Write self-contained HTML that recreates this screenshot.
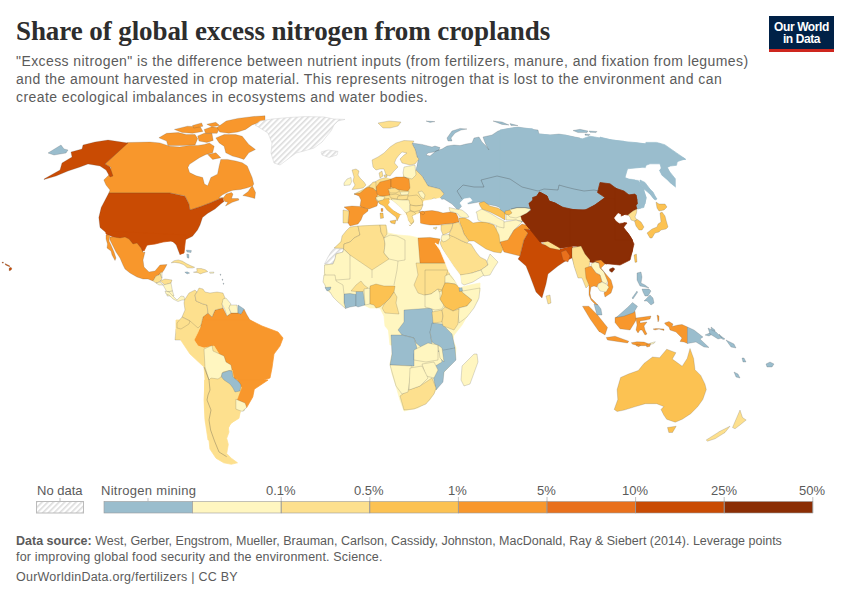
<!DOCTYPE html>
<html><head><meta charset="utf-8">
<style>
html,body{margin:0;padding:0;background:#fff;width:850px;height:600px;overflow:hidden;position:relative;font-family:"Liberation Sans",sans-serif;}
.t{position:absolute;white-space:nowrap;}
#title{left:16px;top:14.6px;font-family:"Liberation Serif",serif;font-weight:bold;font-size:28.3px;color:#2d2d2d;letter-spacing:-0.1px;transform:scaleX(0.955);transform-origin:0 0;}
.sub{left:16px;font-size:14px;color:#5b5b5b;letter-spacing:0.42px;}
#logo{position:absolute;left:769px;top:16px;width:65px;height:36px;background:#002147;}
#logo .red{position:absolute;left:0;bottom:0;width:65px;height:3px;background:#ce261e;}
#logo .l{position:absolute;width:65px;text-align:center;color:#fff;font-size:12px;font-weight:bold;letter-spacing:-0.4px;line-height:14px;}
.leg{font-size:13px;color:#5b5b5b;}
.src{left:16px;font-size:12.5px;color:#5b5b5b;}
svg{position:absolute;left:0;top:0;}
.b{stroke:rgba(70,70,70,0.38);stroke-width:0.5;}
</style></head><body>
<div id="title" class="t">Share of global excess nitrogen from croplands</div>
<div class="t sub" style="top:53px">"Excess nitrogen" is the difference between nutrient inputs (from fertilizers, manure, and fixation from legumes)</div>
<div class="t sub" style="top:71px">and the amount harvested in crop material. This represents nitrogen that is lost to the environment and can</div>
<div class="t sub" style="top:89px">create ecological imbalances in ecosystems and water bodies.</div>
<div id="logo"><div class="l" style="top:3.5px">Our World</div><div class="l" style="top:16.1px">in Data</div><div class="red"></div></div>

<svg width="850" height="600" viewBox="0 0 850 600">
<defs>
<pattern id="hatch" width="4" height="4" patternUnits="userSpaceOnUse" patternTransform="rotate(45)">
<rect width="4" height="4" fill="#fff"/><rect width="1.6" height="4" fill="#dcdcdc"/>
</pattern>
</defs>
<g id="map" stroke="#fff" stroke-width="0.4" stroke-linejoin="round">
<path fill="#9abdcd" stroke="#9abdcd" stroke-width="0.7" d="M600.0,137.1 611.8,140.0 623.5,141.2 629.4,143.5 635.3,142.9 645.9,144.1 645.9,142.4 656.5,142.4 664.7,144.7 676.5,152.9 685.9,159.4 677.6,160.0 676.5,165.3 665.9,166.5 670.6,172.9 675.3,178.8 675.3,187.6 669.4,182.4 661.2,175.3 658.8,170.6 661.2,167.1 658.2,160.0 656.5,162.4 649.4,161.2 647.1,163.5 645.9,168.2 628.2,167.6 624.7,177.6 638.8,180.0 644.7,185.9 649.4,190.0 600.0,190.0Z"/>
<path fill="#ffffff" stroke="#ffffff" stroke-width="0.7" d="M628.2,167.6 645.9,168.2 647.1,163.5 649.4,161.2 656.5,162.4 658.2,160.0 661.2,167.1 658.8,170.6 661.2,175.3 669.4,182.4 675.3,187.6 675.3,192.9 647.1,192.9 638.8,180.0 624.7,177.6Z"/>
<path fill="#9abdcd" stroke="#9abdcd" stroke-width="0.7" d="M615.0,180.0 615.0,187.0 624.0,191.0 629.0,195.0 635.0,194.0 637.0,200.0 635.0,204.0 638.0,209.0 641.0,208.0 645.0,204.0 646.0,198.0 644.0,191.0 640.0,185.0 635.0,180.0Z"/>
<path fill="#9abdcd" class="b" d="M412.0,143.0 422.0,144.4 432.0,147.0 435.0,146.0 440.0,147.6 439.0,150.0 434.0,152.0 428.0,153.0 426.0,155.0 430.0,156.0 436.0,151.0 442.0,149.0 447.0,146.0 454.0,145.0 460.0,145.6 466.0,144.0 472.0,143.0 474.0,138.0 479.0,137.0 482.0,142.0 486.0,146.0 489.0,150.0 486.0,145.0 484.0,140.0 483.0,137.0 492.0,135.0 498.0,131.0 506.0,129.0 518.0,127.0 530.0,129.0 538.0,130.0 539.0,134.0 550.0,135.0 559.0,134.0 570.0,136.0 580.0,138.0 580.0,190.0 545.0,200.0 535.0,215.0 522.0,222.0 510.0,212.0 496.0,206.0 486.0,204.0 479.0,202.0 468.0,204.0 462.0,206.0 458.0,210.0 452.0,204.0 444.0,199.0 438.0,200.0 444.0,194.0 440.0,189.0 428.0,186.0 422.0,176.0 416.0,170.0 418.0,161.0 416.0,152.0Z"/>
<path fill="#fff6c0" stroke="#fff6c0" stroke-width="0.7" d="M325.0,265.0 330.0,255.0 336.0,247.0 344.0,237.0 352.0,230.0 362.0,226.0 380.0,225.0 386.0,225.0 388.0,233.0 398.0,235.0 410.0,236.0 419.0,238.0 430.0,238.0 440.0,239.0 438.0,245.0 450.0,265.0 458.0,279.0 462.0,287.0 470.0,285.0 480.0,283.0 480.0,291.0 470.0,311.0 462.0,325.0 454.0,335.0 450.0,345.0 390.0,345.0 387.0,317.0 384.0,309.0 376.0,307.0 368.0,303.0 354.0,305.0 344.0,307.0 336.0,297.0 328.0,291.0 325.0,285.0 324.0,277.0Z"/>
<path fill="#fff6c0" stroke="#fff6c0" stroke-width="0.7" d="M478.0,300.0 470.0,312.0 458.0,324.0 454.0,332.0 453.0,340.0 456.0,348.0 455.0,360.0 444.0,372.0 442.0,380.0 436.0,390.0 430.0,400.0 418.0,408.0 404.0,411.0 400.0,400.0 396.0,386.0 392.0,374.0 390.0,364.0 392.0,354.0 393.0,340.0 390.0,332.0 385.0,326.0 384.0,316.0 380.0,308.0 370.0,308.0 362.0,304.0 350.0,306.0 350.0,300.0Z"/>
<path fill="#fff6c0" stroke="#fff6c0" stroke-width="0.7" d="M350.0,255.0 372.0,270.0 372.0,278.0 363.0,281.0 360.0,285.0 336.0,285.0 336.0,280.0 350.0,279.0Z"/>
<path fill="#fff6c0" stroke="#fff6c0" stroke-width="0.7" d="M372.0,270.0 389.0,259.0 398.0,261.0 397.0,270.0 394.0,285.0 372.0,285.0 372.0,278.0Z"/>
<path fill="#fff6c0" stroke="#fff6c0" stroke-width="0.7" d="M398.0,261.0 405.0,260.0 405.0,285.0 394.0,285.0 397.0,270.0Z"/>
<path fill="#fde08e" class="b" d="M416.0,263.0 448.0,263.0 450.0,271.0 448.0,281.0 442.0,291.0 434.0,293.0 424.0,295.0 418.0,293.0 414.0,285.0 418.0,275.0Z"/>
<path fill="#fde08e" class="b" d="M442.0,239.0 449.0,235.0 454.0,236.5 462.0,241.0 467.0,243.0 471.0,244.0 476.0,252.0 480.0,257.0 486.0,260.0 488.0,265.0 481.0,270.0 472.0,273.0 465.0,275.0 460.0,275.0 454.0,267.0 448.0,258.0 443.0,250.0 440.0,243.0Z"/>
<path fill="#fde08e" class="b" d="M176.0,329.0 181.0,329.0 189.0,324.0 191.0,327.0 198.0,328.0 201.0,325.0 201.0,340.0 175.0,340.0Z"/>
<path fill="#f8972c" class="b" d="M202.0,317.0 208.0,313.0 212.0,317.0 215.0,310.0 223.0,308.0 227.0,316.0 231.0,313.0 238.0,313.0 241.0,314.0 244.0,309.0 247.0,315.0 250.0,320.0 255.0,323.0 255.0,340.0 201.0,340.0 201.0,325.0 203.0,317.0Z"/>
<path fill="#f8972c" class="b" d="M150.0,142.0 159.9,142.9 169.8,146.2 179.6,147.0 189.5,145.4 197.8,145.4 204.4,144.5 209.3,142.9 214.2,146.2 212.6,152.8 206.0,154.4 199.4,157.7 189.5,164.3 187.9,167.6 189.5,172.5 196.1,175.8 202.7,177.5 204.4,184.1 207.7,185.7 210.9,177.5 217.5,174.2 219.2,165.9 220.8,159.4 227.4,159.4 235.7,161.0 242.2,162.7 247.2,165.9 252.1,177.5 253.8,184.1 252.5,186.1 246.5,188.0 240.5,189.5 233.0,190.3 228.5,191.8 222.5,194.8 218.8,197.8 223.3,197.8 226.3,194.0 231.5,192.5 233.0,194.0 231.5,198.5 238.3,198.5 239.0,200.0 232.3,202.3 225.5,206.0 227.8,202.3 224.8,201.5 222.5,197.8 217.0,200.0 210.0,203.0 200.0,206.8 190.0,210.0 188.8,203.8 185.0,196.0 170.0,193.0 108.8,193.0 110.0,190.0 106.0,185.0 103.8,180.0 108.8,175.0 111.0,167.5 105.0,164.0 127.5,142.5Z"/>
<path fill="#f8972c" class="b" d="M215.9,137.9 224.1,134.6 235.7,134.6 242.2,136.3 248.8,144.5 255.4,149.5 248.8,152.8 243.9,159.4 238.9,157.7 232.4,156.1 225.8,152.8 224.1,146.2 219.2,142.9Z"/>
<path fill="#f8972c" class="b" d="M207.7,154.4 215.9,152.8 220.8,157.7 212.6,159.4Z"/>
<path fill="#f8972c" class="b" d="M158.9,137.8 166.6,133.3 178.3,132.6 186.1,134.6 195.1,134.6 197.7,138.5 195.1,144.9 180.9,145.6 167.9,145.6 166.6,141.1Z"/>
<path fill="#f8972c" class="b" d="M197.7,135.9 204.2,133.3 211.9,133.3 213.2,140.4 206.8,142.4 199.0,141.1Z"/>
<path fill="#f8972c" class="b" d="M174.4,129.4 187.4,126.2 200.3,126.8 202.9,131.4 192.5,133.3 182.2,132.6Z"/>
<path fill="#f8972c" class="b" d="M204.2,129.4 211.9,126.8 219.7,128.1 217.1,133.3 205.5,133.3Z"/>
<path fill="#f8972c" class="b" d="M206.8,124.2 215.8,122.3 219.7,125.5 211.9,126.8Z"/>
<path fill="#f8972c" class="b" d="M217.1,127.5 226.2,121.0 237.8,118.4 253.4,116.5 265.0,115.8 265.0,120.4 252.1,124.9 245.6,129.4 237.8,132.0 228.8,133.3 219.7,132.0Z"/>
<path fill="#f8972c" class="b" d="M192.5,125.5 201.6,122.9 202.9,126.2 193.8,128.1Z"/>
<path fill="#c94b03" class="b" d="M108.8,193.0 170.0,193.0 185.0,196.2 188.8,203.8 190.0,210.0 200.0,206.8 210.0,203.0 217.0,200.0 222.5,197.8 224.0,201.5 221.0,203.8 215.0,209.0 207.5,213.5 202.5,217.5 200.0,225.0 197.5,230.0 192.5,236.2 185.0,240.0 181.2,241.2 182.5,252.5 180.0,255.0 176.2,245.0 172.5,241.2 165.0,240.0 155.0,242.5 143.8,246.2 142.5,252.5 137.5,247.5 131.2,240.0 122.5,237.5 108.8,235.0 100.0,227.5 98.8,217.5 101.2,207.5Z"/>
<path fill="#c94b03" class="b" d="M44.0,179.0 60.0,170.0 62.0,163.0 72.0,157.0 71.0,152.0 82.0,149.0 83.0,145.0 95.0,142.0 108.0,140.0 128.0,143.0 105.0,164.0 110.0,167.0 113.0,176.0 110.0,177.0 106.0,170.0 100.0,166.0 88.0,164.0 80.0,167.0 68.0,171.0 56.0,176.0 44.0,179.6Z"/>
<path fill="#9abdcd" class="b" d="M48.0,153.0 61.0,145.0 64.0,149.0 68.0,150.0 66.0,153.0 54.0,155.0Z"/>
<path fill="url(#hatch)" stroke="#d0d0d0" stroke-width="0.5" d="M255.0,125.0 260.0,121.0 272.0,119.0 290.0,117.4 306.0,116.6 324.0,117.0 334.0,119.0 345.0,119.4 338.0,121.0 334.0,125.0 331.0,131.0 326.0,137.0 322.0,142.0 314.0,148.0 304.0,151.0 296.0,153.0 288.0,159.0 280.0,165.0 274.0,163.0 271.0,153.0 272.0,143.0 268.0,133.0 260.0,128.0Z"/>
<path fill="url(#hatch)" stroke="#d0d0d0" stroke-width="0.5" d="M321.0,152.0 328.0,150.0 338.0,151.4 337.0,155.0 329.0,157.4 322.0,155.0Z"/>
<path fill="#fde08e" class="b" d="M354.0,194.0 364.0,189.0 373.0,183.0 380.0,179.0 388.0,177.0 398.0,174.0 406.0,172.0 416.0,170.0 422.0,176.0 428.0,186.0 440.0,189.0 444.0,194.0 438.0,200.0 434.0,198.0 424.0,204.0 420.0,210.0 418.0,215.0 414.0,222.0 410.0,226.0 406.0,222.0 402.0,216.0 400.0,210.0 394.0,204.0 386.0,202.0 380.0,204.0 376.0,199.0Z"/>
<path fill="#ffffff" stroke="#ffffff" stroke-width="0.7" d="M395.3,163.6 402.4,152.4 406.6,153.8 401.0,160.8 402.4,165.0 416.5,165.8 415.0,167.2 406.6,167.9 403.8,172.1 402.4,177.8 395.3,179.2 388.2,177.8 385.4,176.4 384.0,172.1 388.2,172.1 393.9,169.3Z"/>
<path fill="#fde08e" class="b" d="M378.0,123.0 389.0,121.0 401.0,122.0 398.0,126.0 390.0,128.0 383.0,128.0Z"/>
<path fill="#9abdcd" stroke="#9abdcd" stroke-width="0.7" d="M500.0,130.0 515.0,127.5 532.5,128.8 537.5,133.8 550.0,135.0 565.0,135.0 575.0,137.5 582.5,138.8 590.0,136.2 605.0,138.8 620.0,141.2 635.0,142.5 645.0,143.8 660.0,143.8 670.0,150.0 677.5,155.0 685.0,158.8 675.0,162.5 667.5,167.5 672.5,180.0 675.0,186.2 670.0,182.5 662.5,172.5 660.0,163.8 650.0,163.8 640.0,167.5 627.5,168.8 625.0,177.5 635.0,182.5 642.5,187.5 646.2,197.5 643.8,207.5 636.2,208.8 636.2,195.0 625.0,195.0 610.0,185.0 600.0,182.5 597.5,192.5 605.0,197.5 595.0,205.0 585.0,211.2 570.0,210.0 550.0,202.5 537.5,192.5 530.0,202.5 522.5,207.5 515.0,208.8 510.0,212.5 500.0,215.0Z"/>
<path fill="#9abdcd" stroke="#9abdcd" stroke-width="0.7" d="M640.0,180.0 645.0,182.5 652.5,192.5 656.2,198.8 653.8,198.8 646.2,188.8Z"/>
<path fill="#fff6c0" class="b" d="M506.0,214.0 524.0,216.0 526.0,222.0 516.0,220.0 506.0,220.0Z"/>
<path fill="#fff6c0" class="b" d="M496.0,226.0 504.0,222.0 516.0,220.0 522.0,222.0 514.0,230.0 508.0,240.0 504.0,244.0 497.0,242.0 496.0,236.0Z"/>
<path fill="#f8972c" class="b" d="M500.0,242.0 508.0,240.0 514.0,230.0 522.0,224.0 530.0,226.0 528.0,233.0 524.0,240.0 522.0,248.0 520.0,256.0 512.0,254.0 504.0,252.0 502.0,248.0Z"/>
<path fill="#8b2d04" stroke="#8b2d04" stroke-width="0.7" d="M521.0,216.0 531.0,211.0 529.0,203.5 537.0,196.0 539.5,192.0 547.0,196.0 549.0,201.0 555.0,203.0 562.0,207.0 573.0,209.5 590.0,210.0 590.0,262.0 580.0,246.0 572.0,246.0 560.0,248.0 548.0,241.0 540.0,242.0 534.0,232.0 528.0,227.0 522.0,220.0Z"/>
<path fill="#c94b03" class="b" d="M524.0,229.0 532.0,230.0 538.0,238.0 542.0,244.0 550.0,246.0 560.0,249.0 572.0,246.0 576.0,252.0 572.0,258.0 564.0,262.0 558.0,266.0 548.0,274.0 546.0,284.0 542.0,298.0 536.0,292.0 530.0,276.0 526.0,266.0 518.0,259.0 520.0,256.0 522.0,248.0 524.0,240.0 528.0,233.0Z"/>
<path fill="#fde08e" class="b" d="M542.0,243.0 548.0,241.0 560.0,246.0 560.0,250.0 550.0,248.0Z"/>
<path fill="#e9701c" class="b" d="M561.0,252.0 566.0,250.0 570.0,256.0 568.0,262.0 563.0,260.0Z"/>
<path fill="#fde08e" class="b" d="M546.0,296.0 550.0,295.0 551.0,303.0 548.0,304.0Z"/>
<path fill="#fde08e" class="b" d="M572.0,248.0 580.0,246.0 584.0,254.0 584.0,266.0 588.0,274.0 582.0,278.0 576.0,270.0 572.0,258.0Z"/>
<path fill="#8b2d04" stroke="#8b2d04" stroke-width="0.7" d="M521.0,216.0 525.0,214.0 531.0,211.0 532.0,209.0 529.0,203.5 533.0,201.0 532.5,197.5 537.0,196.0 539.5,192.0 547.0,196.0 549.0,201.0 555.0,203.0 562.0,207.0 565.0,209.0 573.0,209.5 581.0,211.0 585.0,210.0 595.0,205.0 605.0,197.5 597.5,192.5 600.0,182.5 610.0,183.8 625.0,195.0 636.2,195.0 637.5,203.8 630.0,210.0 623.8,215.0 617.5,217.5 622.5,222.5 620.0,227.5 627.5,232.5 632.5,240.0 632.5,250.0 630.0,260.0 620.0,265.0 590.0,262.0 580.0,246.0 572.0,246.0 560.0,248.0 548.0,241.0 540.0,242.0 528.0,227.0Z"/>
<path fill="#8b2d04" stroke="#8b2d04" stroke-width="0.7" d="M636.0,200.0 636.0,208.0 628.0,212.0 620.0,215.0 615.0,219.0 621.0,222.0 624.0,228.0 630.0,236.0 634.0,244.0 632.0,252.0 628.0,260.0 618.0,264.0 612.0,262.0 606.0,264.0 600.0,260.0 592.0,262.0 586.0,258.0 580.0,248.0 574.0,244.0 570.0,246.0 570.0,210.0 585.0,211.0 595.0,205.0 605.0,198.0Z"/>
<path fill="#fcc252" class="b" d="M634.0,255.0 636.4,254.0 637.0,262.0 635.0,262.4Z"/>
<path fill="#fde08e" class="b" d="M572.0,248.0 581.0,246.0 585.0,254.0 590.0,260.0 589.0,268.0 592.0,276.0 590.0,284.0 586.0,288.0 582.0,278.0 578.0,278.0 574.0,266.0 572.0,256.0Z"/>
<path fill="#fcc252" class="b" d="M667.5,427.5 676.2,426.2 672.5,432.5 668.8,432.5Z"/>
<path fill="#fde08e" class="b" d="M732.5,427.5 740.0,410.0 742.5,417.5 746.2,420.0 740.0,425.0 735.0,428.8Z"/>
<path fill="#fde08e" class="b" d="M706.2,440.0 720.0,431.2 730.0,426.2 725.0,432.5 715.0,438.8 707.5,441.2Z"/>
<path fill="#f8972c" class="b" d="M582.5,306.2 588.8,306.2 597.5,315.0 607.5,327.5 605.0,335.0 598.8,331.2 590.0,318.8Z"/>
<path fill="#f8972c" class="b" d="M606.2,337.5 615.0,336.2 628.8,341.2 627.5,343.0 607.5,340.0Z"/>
<path fill="#f8972c" class="b" d="M615.0,317.5 623.8,315.0 635.0,311.2 636.2,320.0 630.0,330.0 620.0,328.8 615.0,322.5Z"/>
<path fill="#9abdcd" class="b" d="M616.2,317.5 627.5,307.5 632.5,302.5 637.5,306.2 633.8,312.5 623.8,316.2Z"/>
<path fill="#9abdcd" class="b" d="M404.0,310.0 432.0,308.0 434.0,322.0 430.0,332.0 432.0,344.0 428.0,350.0 422.0,348.0 416.0,343.0 414.0,338.0 402.0,335.0 398.0,330.0 404.0,322.0Z"/>
<path fill="#9abdcd" class="b" d="M391.0,335.0 402.0,335.0 414.0,338.0 417.0,348.0 414.0,354.0 414.0,366.0 390.0,365.0 392.0,354.0Z"/>
<path fill="#9abdcd" class="b" d="M432.0,323.0 442.0,324.0 452.0,334.0 455.0,348.0 444.0,351.0 438.0,346.0 432.0,342.0 430.0,332.0Z"/>
<path fill="#9abdcd" class="b" d="M438.0,351.0 455.0,348.0 456.0,360.0 444.0,372.0 443.0,382.0 436.0,390.0 434.0,380.0 432.0,368.0 442.0,362.0 440.0,352.0Z"/>
<path fill="#fde08e" class="b" d="M400.0,396.0 408.0,390.0 420.0,386.0 432.0,378.0 436.0,388.0 434.0,394.0 426.0,404.0 414.0,409.0 404.0,410.0Z"/>
<path fill="#fff6c0" class="b" d="M462.0,366.0 474.0,354.0 477.0,354.0 478.0,362.0 470.0,384.0 464.0,386.0 461.0,380.0Z"/>
<path fill="#c94b03" stroke="#c94b03" stroke-width="0.7" d="M106.0,234.0 139.0,247.0 144.0,251.0 147.0,245.0 155.0,244.0 163.0,242.0 171.0,241.0 177.0,243.0 180.0,247.0 181.0,254.0 184.0,253.0 186.0,235.0 106.0,231.0Z"/>
<path fill="#f8972c" stroke="#f8972c" stroke-width="0.7" d="M202.0,320.0 250.0,320.0 262.0,326.0 278.0,332.0 283.0,338.0 280.0,346.0 274.0,354.0 272.0,368.0 270.0,378.0 258.0,382.0 254.0,388.0 252.0,396.0 246.0,406.0 238.0,400.0 240.0,390.0 234.0,380.0 232.0,370.0 224.0,362.0 214.0,346.0 204.0,348.0 198.0,346.0 194.0,340.0 198.0,332.0 202.0,326.0Z"/>
<path fill="#fde08e" stroke="#fde08e" stroke-width="0.7" d="M176.0,320.0 202.0,320.0 198.0,332.0 194.0,340.0 198.0,346.0 204.0,348.0 214.0,346.0 224.0,362.0 232.0,370.0 234.0,380.0 240.0,390.0 238.0,400.0 236.0,404.0 240.0,412.0 238.0,418.0 230.0,424.0 226.0,434.0 222.0,440.0 208.0,440.0 205.0,420.0 204.0,400.0 205.0,380.0 204.0,367.0 190.0,354.0 182.0,342.0 176.0,332.0Z"/>
<path fill="#fff6c0" class="b" d="M236.0,400.0 246.0,406.0 244.0,411.0 238.0,410.0 236.0,404.0Z"/>
<path fill="#fde08e" stroke="#fde08e" stroke-width="0.7" d="M204.5,380.0 237.5,380.0 242.1,387.7 237.5,398.4 235.9,403.0 240.5,410.7 239.0,418.3 231.3,422.9 228.3,427.5 229.0,432.1 226.7,438.3 228.3,444.4 226.7,453.6 231.3,458.2 237.5,462.8 231.3,464.3 223.7,462.8 216.0,458.2 209.9,449.0 208.3,433.7 205.3,418.3 204.5,403.0 204.5,387.7Z"/>
<path fill="#f8972c" stroke="#f8972c" stroke-width="0.7" d="M237.5,380.0 268.1,380.0 254.3,389.2 252.8,396.9 246.7,407.6 237.5,399.9 242.1,387.7Z"/>
<path fill="#fff6c0" class="b" d="M235.9,399.2 245.1,403.0 246.7,407.6 242.1,411.4 235.9,409.1Z"/>
<path fill="#8b2d04" stroke="#8b2d04" stroke-width="0.7" d="M615.0,188.0 624.0,191.0 629.0,195.0 635.0,194.0 637.0,200.0 635.0,204.0 637.0,209.0 633.0,211.0 628.0,215.0 621.0,214.0 618.0,218.0 615.0,219.0Z"/>
<path fill="#8b2d04" stroke="#8b2d04" stroke-width="0.7" d="M615.0,220.0 621.0,222.0 627.0,223.0 623.0,228.0 627.0,234.0 632.0,240.0 615.0,240.0Z"/>
<path fill="#fde08e" class="b" d="M628.0,215.0 633.0,211.0 637.0,209.0 636.5,213.0 635.0,217.0 637.0,220.0 634.0,221.0 631.0,220.0 630.0,217.0Z"/>
<path fill="#fcc252" class="b" d="M634.5,221.0 637.5,219.5 641.0,222.0 644.0,227.0 642.0,230.0 639.0,230.0 636.0,226.0Z"/>
<path fill="#fcc252" class="b" d="M656.0,202.0 659.0,204.0 665.0,204.0 667.0,207.0 664.0,210.0 659.0,211.0 657.0,208.0Z"/>
<path fill="#fcc252" class="b" d="M647.0,233.0 652.0,229.0 657.0,227.0 658.0,224.0 661.0,222.0 660.0,213.0 662.0,212.0 665.0,216.0 666.0,220.0 668.0,227.0 666.0,229.0 661.0,230.0 659.0,232.0 655.0,233.0 652.0,238.0 650.0,238.0Z"/>
<path fill="#9abdcd" stroke="#9abdcd" stroke-width="0.7" d="M640.0,180.0 646.0,186.0 653.0,192.0 655.0,196.0 657.0,199.0 655.0,200.0 651.0,195.0 643.0,188.0 640.0,183.0Z"/>
<path fill="#ffffff" stroke="#ffffff" stroke-width="0.7" d="M422.0,205.0 424.0,201.0 430.0,200.0 436.0,199.0 440.0,198.0 441.5,200.0 440.0,202.5 444.0,205.0 449.0,208.0 450.0,211.0 445.0,212.5 438.0,211.0 432.0,211.5 426.0,211.5 422.5,210.0Z"/>
<path fill="#ffffff" stroke="#ffffff" stroke-width="0.7" d="M460.0,203.0 464.0,199.0 470.0,198.0 472.0,200.5 467.0,203.0 469.0,207.0 474.0,210.0 477.0,213.0 478.0,220.0 477.0,223.0 473.0,223.0 470.0,221.0 469.0,217.0 467.0,214.0 463.0,210.0 462.0,206.0Z"/>
<path fill="#f8972c" class="b" d="M420.0,212.0 426.0,211.0 432.0,210.5 438.0,211.5 443.0,213.0 450.0,212.0 456.0,213.0 458.0,217.0 459.0,222.0 453.0,223.5 445.0,224.0 439.0,225.0 430.0,225.0 424.0,224.0 420.0,223.0Z"/>
<path fill="#fff6c0" class="b" d="M449.0,207.5 456.0,209.0 462.0,210.0 467.0,214.0 469.0,217.0 465.0,218.0 460.0,217.0 458.0,214.0 453.0,212.0 450.0,211.5Z"/>
<path fill="#fcc252" class="b" d="M459.0,218.0 465.0,218.0 469.0,220.0 473.0,223.0 479.0,222.0 486.0,222.0 494.0,225.0 496.0,229.0 499.0,235.0 500.0,243.0 503.0,249.0 501.0,253.0 494.0,252.0 486.0,249.0 480.0,245.0 474.0,241.0 469.0,241.0 464.0,234.0 462.0,228.0 460.0,223.0Z"/>
<path fill="#fff6c0" class="b" d="M476.0,212.0 482.0,209.0 490.0,213.0 498.0,218.0 504.0,221.0 504.0,228.0 499.0,227.0 495.0,225.0 490.0,223.0 482.0,222.0 478.0,220.0 477.0,214.0Z"/>
<path fill="#fcc252" class="b" d="M479.0,203.0 484.0,201.5 490.0,206.0 498.0,208.0 505.0,213.0 505.0,220.0 500.0,217.0 490.0,212.0 482.0,209.0 480.0,206.0Z"/>
<path fill="#fde08e" class="b" d="M441.0,225.0 453.0,223.5 452.0,228.0 450.0,232.0 443.0,235.0 441.0,230.0Z"/>
<path fill="#fde08e" class="b" d="M453.0,223.5 459.0,222.0 462.0,228.0 464.0,234.0 469.0,241.0 467.0,243.0 462.0,241.0 454.0,237.0 449.0,235.0 450.0,232.0 452.0,228.0Z"/>
<path fill="#fff6c0" class="b" d="M442.0,235.0 449.0,234.5 450.0,238.0 446.0,241.0 443.0,242.0 441.0,239.0Z"/>
<path fill="#fde08e" class="b" d="M433.0,228.0 437.0,227.0 436.0,229.5Z"/>
<path fill="#fff6c0" class="b" d="M460.0,275.0 472.0,273.0 481.0,270.0 484.0,275.0 473.0,282.0 464.0,285.0 461.0,283.0Z"/>
<path fill="#fff6c0" class="b" d="M481.0,270.0 488.0,265.0 487.0,261.0 490.0,254.0 494.0,258.0 498.0,262.0 494.0,268.0 490.0,275.0 484.0,276.0Z"/>
<path fill="#f8972c" class="b" d="M430.0,239.0 435.0,239.0 435.0,243.0 440.0,250.0 445.0,262.0 430.0,262.0Z"/>
<path fill="#fde08e" class="b" d="M372.0,160.0 378.0,157.0 384.0,153.0 390.0,147.0 396.0,143.0 404.0,140.5 414.0,141.0 412.0,144.0 415.0,149.0 417.0,157.0 419.0,159.0 415.0,164.0 410.0,165.0 402.0,163.0 400.0,159.0 404.0,155.0 407.0,153.0 402.0,152.0 399.0,155.0 396.0,159.0 394.5,163.0 398.0,167.0 394.0,171.0 390.0,176.0 386.0,175.0 384.0,169.0 380.0,169.0 376.0,170.0 373.0,167.0Z"/>
<path fill="#fde08e" class="b" d="M379.0,173.0 382.0,171.0 383.0,176.0 380.0,178.0Z"/>
<path fill="#fde08e" class="b" d="M384.0,175.0 387.0,175.0 387.0,177.0 384.5,177.0Z"/>
<path fill="#fde08e" class="b" d="M352.0,170.0 356.0,169.0 359.0,171.0 358.0,175.0 360.0,178.0 364.0,182.0 366.0,185.0 363.0,188.0 357.0,189.0 352.0,189.5 355.0,185.0 353.0,181.0 354.0,177.0Z"/>
<path fill="#fff6c0" class="b" d="M344.0,183.0 347.0,179.0 351.0,177.5 351.5,182.0 350.0,185.0 344.0,185.5Z"/>
<path fill="#fff6c0" class="b" d="M404.0,167.0 415.0,165.0 416.0,175.0 412.0,179.0 404.0,177.0 403.0,173.0Z"/>
<path fill="#9abdcd" class="b" d="M401.0,178.0 406.0,177.5 406.5,179.5 401.5,179.5Z"/>
<path fill="#9abdcd" class="b" d="M447.0,138.0 452.0,131.0 460.0,128.4 467.0,129.0 461.0,130.0 455.0,133.0 451.0,138.0 452.0,141.0 448.0,141.0Z"/>
<path fill="#9abdcd" class="b" d="M493.0,121.0 502.0,122.0 509.0,125.0 502.0,124.4Z"/>
<path fill="#9abdcd" class="b" d="M510.0,123.6 518.0,125.6 511.0,125.6Z"/>
<path fill="#9abdcd" class="b" d="M426.0,121.0 435.0,121.6 430.0,122.4Z"/>
<path fill="#9abdcd" class="b" d="M573.0,130.5 580.0,129.3 588.0,131.0 587.0,132.6 578.0,132.6Z"/>
<path fill="#9abdcd" class="b" d="M589.0,131.0 597.0,131.5 596.0,132.6 590.0,132.3Z"/>
<path fill="#9abdcd" class="b" d="M585.0,134.0 590.0,134.5 589.0,135.5 585.0,135.2Z"/>
<path fill="#fde08e" class="b" d="M334.0,248.0 341.0,242.0 342.0,236.0 346.0,231.0 350.0,227.0 358.0,226.0 360.0,235.0 354.0,238.0 350.0,242.0 344.0,244.0 343.5,248.5Z"/>
<path fill="url(#hatch)" stroke="#c8c8c8" stroke-width="0.5" d="M324.5,264.0 328.0,257.0 331.0,252.0 334.0,248.5 343.5,249.0 343.0,252.0 336.0,254.0 335.0,259.0 333.0,264.0Z"/>
<path fill="#fde08e" class="b" d="M344.0,244.0 350.0,242.0 354.0,238.0 360.0,235.0 358.0,226.0 380.0,225.0 381.0,232.0 384.0,238.0 385.0,244.0 384.0,253.0 389.0,259.0 372.0,270.0 350.0,255.0 347.0,252.0 343.5,249.0Z"/>
<path fill="#fde08e" class="b" d="M380.0,225.0 386.0,225.0 387.0,234.0 384.0,238.0 381.0,232.0Z"/>
<path fill="#fff6c0" class="b" d="M384.0,238.0 390.0,235.0 397.0,236.0 405.0,240.0 405.0,260.0 398.0,261.0 389.0,259.0 384.0,253.0 385.0,244.0Z"/>
<path fill="#fff6c0" class="b" d="M324.5,265.0 333.0,264.0 335.0,259.0 336.0,254.0 343.0,252.0 343.5,249.0 350.0,255.0 350.0,279.0 336.0,280.0 331.0,276.0 326.0,278.0 324.5,273.0Z"/>
<path fill="#9abdcd" class="b" d="M344.0,294.0 350.0,293.5 356.0,294.5 356.0,306.0 350.0,307.0 345.5,308.5 344.0,303.0Z"/>
<path fill="#9abdcd" class="b" d="M356.0,291.5 363.0,291.5 364.0,298.0 365.0,305.0 358.0,307.0 356.0,306.0Z"/>
<path fill="#fde08e" class="b" d="M351.0,291.0 356.0,285.0 361.0,281.0 364.0,285.0 368.0,288.0 363.0,291.5 356.0,291.5Z"/>
<path fill="#fff6c0" class="b" d="M364.0,289.0 370.0,288.0 370.0,304.0 365.0,305.0Z"/>
<path fill="#fcc252" class="b" d="M370.0,286.0 376.0,284.0 384.0,286.0 395.0,286.0 394.0,292.0 390.0,298.0 385.0,303.0 380.0,307.0 376.0,308.0 374.0,305.0 370.0,304.0Z"/>
<path fill="#fde08e" class="b" d="M385.0,303.0 390.0,298.0 394.0,292.0 397.0,297.0 396.0,303.0 399.0,314.0 385.0,313.0 382.0,308.0Z"/>
<path fill="#fff6c0" class="b" d="M324.0,275.0 335.0,275.0 336.0,281.0 343.0,285.0 344.0,294.0 344.0,303.0 345.5,308.5 338.0,302.0 333.0,297.0 330.0,292.0 326.0,289.0 325.0,285.0 323.0,282.0Z"/>
<path fill="#fde08e" class="b" d="M425.0,270.0 448.0,270.0 446.0,276.0 445.0,283.0 442.0,290.0 438.0,289.0 431.0,294.0 425.0,295.0Z"/>
<path fill="#fff6c0" class="b" d="M425.0,295.0 431.0,294.0 438.0,289.0 440.0,294.0 440.0,299.0 444.0,305.0 442.0,309.0 435.0,310.0 429.0,308.0 425.0,307.0Z"/>
<path fill="#fff6c0" class="b" d="M445.0,276.0 449.0,274.0 454.0,280.0 460.0,287.0 455.0,284.0 448.0,283.0 445.0,283.0Z"/>
<path fill="#fcc252" class="b" d="M442.0,290.0 445.0,283.0 448.0,283.0 455.0,284.0 460.0,288.0 462.0,292.0 472.0,300.0 467.0,306.0 459.0,308.0 453.0,311.0 445.0,307.0 440.0,299.0 442.0,294.0Z"/>
<path fill="#9abdcd" class="b" d="M459.0,288.0 462.0,287.5 462.5,291.0 459.5,291.5Z"/>
<path fill="#fff6c0" class="b" d="M462.5,291.0 480.0,288.0 479.0,298.0 474.0,308.0 467.0,317.0 459.0,323.0 458.0,312.0 459.0,308.0 467.0,306.0 472.0,300.0 462.0,292.0Z"/>
<path fill="#fde08e" class="b" d="M432.0,312.0 442.0,310.0 443.0,316.0 442.0,322.0 433.0,323.0Z"/>
<path fill="#fde08e" class="b" d="M442.0,310.0 445.0,307.0 453.0,311.0 459.0,309.0 458.0,324.0 454.0,330.0 443.0,326.0 442.0,322.0 443.0,316.0Z"/>
<path fill="#f8972c" class="b" d="M418.0,238.0 430.0,237.4 440.0,239.0 438.0,245.0 450.0,263.0 420.0,263.0Z"/>
<path fill="#fff6c0" class="b" d="M414.0,350.0 428.0,343.0 438.0,345.0 438.0,360.0 426.0,362.0 414.0,360.0Z"/>
<path fill="#fff6c0" class="b" d="M438.0,345.0 442.0,348.0 444.0,362.0 440.0,358.0Z"/>
<path fill="#fff6c0" class="b" d="M422.0,364.0 434.0,362.0 438.0,370.0 434.0,378.0 426.0,376.0Z"/>
<path fill="#fff6c0" class="b" d="M390.0,365.0 412.0,366.0 408.0,392.0 402.0,394.0 396.0,386.0Z"/>
<path fill="#fff6c0" class="b" d="M410.0,368.0 422.0,366.0 428.0,378.0 420.0,386.0 409.0,390.0Z"/>
<path fill="#f8972c" class="b" d="M354.0,194.0 360.0,193.0 366.0,188.0 369.0,187.0 373.0,188.0 378.0,192.0 377.0,197.0 375.5,199.0 378.0,202.0 377.0,206.0 369.0,209.0 363.0,208.0 360.0,206.0 361.0,200.0 359.0,196.0Z"/>
<path fill="#f8972c" class="b" d="M344.0,207.0 352.0,206.0 360.0,206.5 368.0,209.0 368.0,211.0 363.0,215.0 361.0,220.0 358.0,224.0 350.0,226.0 348.0,223.0 349.0,211.0Z"/>
<path fill="#fde08e" class="b" d="M343.0,210.0 349.0,211.0 348.0,223.0 343.0,223.0Z"/>
<path fill="#fcc252" class="b" d="M378.0,201.5 383.0,199.0 389.0,198.5 390.0,202.0 388.0,205.0 393.0,210.0 398.0,213.0 402.0,215.0 399.0,217.0 397.0,221.0 396.0,217.0 392.0,214.0 387.0,210.0 384.0,206.0 380.0,204.0Z"/>
<path fill="#fcc252" class="b" d="M390.0,221.0 396.0,220.0 395.0,224.0 391.0,223.0Z"/>
<path fill="#fcc252" class="b" d="M380.0,213.0 383.0,213.0 383.5,218.0 380.5,218.5Z"/>
<path fill="#f8972c" class="b" d="M381.0,208.5 383.0,208.5 382.8,211.5 381.2,211.5Z"/>
<path fill="#fff6c0" class="b" d="M375.5,197.5 380.0,196.0 385.0,197.0 383.0,200.0 378.0,201.0Z"/>
<path fill="#f8972c" class="b" d="M376.0,187.0 380.0,182.0 388.0,180.0 391.0,179.0 391.0,187.0 389.0,192.0 390.0,195.0 385.0,196.0 380.0,196.0 377.0,194.0Z"/>
<path fill="#f8972c" class="b" d="M391.0,179.0 396.0,177.0 404.0,177.0 409.0,179.0 410.0,188.0 408.0,191.0 400.0,190.0 395.0,189.0 391.0,187.0Z"/>
<path fill="#fde08e" class="b" d="M388.0,189.0 395.0,188.0 400.0,191.0 396.0,193.0 390.0,193.0Z"/>
<path fill="#fde08e" class="b" d="M389.0,195.0 396.0,194.0 400.0,195.5 397.0,199.0 391.0,198.0Z"/>
<path fill="#fff6c0" class="b" d="M400.0,192.0 409.0,191.5 408.0,195.0 401.0,195.0Z"/>
<path fill="#fde08e" class="b" d="M398.0,196.0 408.0,195.0 409.0,199.0 402.0,200.0 397.0,199.5Z"/>
<path fill="#fde08e" class="b" d="M408.0,196.0 417.0,195.0 422.0,200.0 423.0,205.0 416.0,206.0 410.0,205.0 407.0,200.0Z"/>
<path fill="#fff6c0" class="b" d="M391.0,199.0 397.0,199.5 402.0,200.0 409.0,200.0 410.0,205.0 410.0,210.0 409.0,214.0 406.0,213.0 403.0,210.0 399.0,206.0 394.0,202.0Z"/>
<path fill="#fde08e" class="b" d="M410.0,205.0 416.0,206.0 423.0,205.0 421.0,210.0 414.0,212.0 410.0,210.0Z"/>
<path fill="#fde08e" class="b" d="M406.0,213.0 410.0,211.0 414.0,212.0 416.0,214.0 412.0,216.0 414.0,221.0 411.0,224.0 408.0,220.0 407.0,216.0Z"/>
<path fill="#f8972c" class="b" d="M419.0,212.0 423.0,211.0 425.0,213.0 423.0,215.0Z"/>
<path fill="#fde08e" class="b" d="M369.0,187.0 373.0,182.0 376.0,182.0 376.0,191.0 373.0,188.0Z"/>
<path fill="#fff6c0" class="b" d="M418.0,192.0 422.0,191.0 425.0,195.0 424.0,199.0 421.0,197.0Z"/>
<path fill="#f8972c" class="b" d="M106.0,235.0 110.0,235.0 109.0,241.0 111.0,245.0 114.0,252.0 116.0,258.0 115.0,260.5 112.0,255.0 111.0,251.0 107.0,248.0 107.5,244.0 106.0,239.0Z"/>
<path fill="#f8972c" class="b" d="M110.0,237.0 113.0,237.0 120.0,238.0 125.0,237.0 129.0,239.0 133.0,244.0 137.0,243.0 141.0,248.0 143.0,252.5 145.0,252.0 143.0,260.0 144.0,267.0 149.0,272.0 155.0,271.0 160.0,265.0 167.0,264.5 164.0,270.0 161.0,274.0 156.0,276.0 153.0,281.0 148.0,279.0 143.0,279.0 137.0,277.0 130.0,273.0 125.0,269.0 123.0,265.0 120.0,258.0 116.0,252.0 113.0,246.0 110.0,240.0Z"/>
<path fill="#fde08e" class="b" d="M153.0,281.0 156.0,276.0 159.0,275.0 160.0,273.0 162.0,279.0 159.0,282.0 156.0,283.0Z"/>
<path fill="#fff6c0" class="b" d="M160.0,273.0 162.0,272.0 162.0,278.0Z"/>
<path fill="#fde08e" class="b" d="M160.0,281.0 165.0,279.0 172.0,280.0 171.0,283.0 165.0,285.0Z"/>
<path fill="#fff6c0" class="b" d="M156.0,283.0 160.0,282.0 163.0,285.0 159.0,285.0Z"/>
<path fill="#fff6c0" class="b" d="M163.0,285.0 171.0,283.0 172.5,291.0 167.0,292.0Z"/>
<path fill="#fff6c0" class="b" d="M167.0,292.0 172.5,291.0 174.0,296.0 167.0,296.0Z"/>
<path fill="#fff6c0" class="b" d="M165.0,291.0 169.0,292.0 173.0,296.0 177.0,300.0 181.0,296.0 184.0,296.5 185.0,300.0 182.0,300.0 178.0,301.5 173.0,299.0 169.0,295.0 166.0,294.0Z"/>
<path fill="#fde08e" class="b" d="M184.5,300.0 189.0,293.0 195.0,290.0 197.0,292.0 195.0,295.0 196.0,301.0 203.0,304.0 207.0,305.0 208.0,313.0 203.0,317.0 201.0,325.0 198.0,328.0 190.0,321.0 182.0,317.0 185.0,310.0 184.0,303.0Z"/>
<path fill="#fde08e" class="b" d="M197.0,292.0 199.0,288.0 203.0,289.0 205.0,292.0 210.0,293.0 217.0,292.0 223.0,293.0 225.0,298.0 222.0,304.0 223.0,308.0 215.0,310.0 212.0,317.0 208.0,313.0 207.0,305.0 203.0,304.0 196.0,301.0 195.0,295.0Z"/>
<path fill="#fff6c0" class="b" d="M223.0,299.0 226.0,298.0 231.0,304.0 229.0,308.0 231.0,313.0 227.0,316.0 225.0,310.0 222.0,304.0Z"/>
<path fill="#fff6c0" class="b" d="M230.0,305.0 237.0,305.0 238.0,313.0 231.0,313.0 229.0,308.0Z"/>
<path fill="#9abdcd" class="b" d="M238.0,305.0 244.0,309.0 241.0,314.0 238.0,313.0Z"/>
<path fill="#fde08e" class="b" d="M177.0,323.0 182.0,317.0 190.0,321.0 189.0,324.0 181.0,329.0 177.0,328.0Z"/>
<path fill="#fff6c0" class="b" d="M204.0,349.0 212.0,345.5 213.0,351.0 224.0,356.0 226.0,362.0 231.0,365.0 232.0,370.0 223.0,372.0 221.0,377.0 218.0,379.0 211.0,378.0 209.0,380.0 205.0,367.0Z"/>
<path fill="#9abdcd" class="b" d="M222.0,373.0 229.0,370.5 232.0,371.0 233.0,377.0 239.0,382.0 241.0,385.0 240.0,391.0 235.0,392.0 233.0,388.0 230.0,384.0 224.0,380.0 221.5,377.0Z"/>
<path fill="#f8972c" class="b" d="M664.5,323.0 669.0,321.5 673.0,324.0 672.0,326.5 678.0,325.0 682.0,324.5 687.5,327.0 687.5,343.5 684.0,342.0 680.0,341.5 682.0,338.0 676.0,332.0 670.0,330.0 669.0,327.0 666.0,325.0Z"/>
<path fill="#9abdcd" class="b" d="M687.5,327.0 694.0,330.0 703.0,337.0 700.0,339.0 709.0,347.5 704.0,347.0 696.0,342.0 687.5,343.5Z"/>
<path fill="#9abdcd" class="b" d="M705.0,335.0 712.0,332.0 711.0,327.0 715.0,330.0 714.5,333.0 709.0,336.0Z"/>
<path fill="#9abdcd" class="b" d="M719.0,334.0 721.0,336.0 725.0,339.0 723.0,339.5 720.0,337.0Z"/>
<path fill="#f8972c" class="b" d="M636.0,318.0 651.0,316.0 650.0,319.0 646.0,320.0 640.0,321.0 640.0,323.0 647.0,322.0 644.0,326.0 645.0,330.0 647.0,334.0 645.0,335.0 642.0,330.0 640.0,330.0 638.0,333.0 636.0,330.0 637.0,325.0Z"/>
<path fill="#f8972c" class="b" d="M657.0,315.0 659.0,316.0 659.0,320.0 658.0,322.0 657.5,318.0Z"/>
<path fill="#f8972c" class="b" d="M653.0,329.0 656.0,328.5 664.0,329.0 664.0,330.5 659.0,329.0 655.0,330.0Z"/>
<path fill="#9abdcd" class="b" d="M708.0,328.0 716.0,332.0 722.0,338.0 718.0,339.0 710.0,334.0Z"/>
<path fill="#9abdcd" class="b" d="M726.0,340.0 734.0,344.0 736.0,348.0 731.0,347.0Z"/>
<path fill="#9abdcd" class="b" d="M734.0,372.0 738.0,374.0 740.0,378.0 736.0,377.0Z"/>
<path fill="#9abdcd" class="b" d="M742.0,358.0 744.0,358.0 746.0,362.0 743.0,362.0Z"/>
<path fill="#9abdcd" class="b" d="M766.0,364.0 770.0,362.0 774.0,364.0 772.0,367.0 767.0,367.0Z"/>
<path fill="#c94b03" class="b" d="M9.2,268.0 11.0,267.3 12.0,269.0 10.0,270.8 9.0,270.5Z"/>
<path fill="#c94b03" class="b" d="M5.0,263.5 7.0,264.5 10.0,266.0 9.5,266.8 5.5,265.0Z"/>
<path fill="#c94b03" class="b" d="M2.0,262.0 3.6,262.2 3.2,263.2 2.2,263.0Z"/>
<path fill="#8b2d04" class="b" d="M609.5,269.0 613.0,267.5 615.0,269.0 612.0,272.5 609.5,271.0Z"/>
<path fill="#fff6c0" class="b" d="M591.0,264.0 595.0,262.0 599.0,263.0 600.0,268.0 604.0,272.0 608.0,281.0 606.0,284.0 602.0,282.0 600.0,275.0 596.0,273.0 592.0,268.0Z"/>
<path fill="#f8972c" class="b" d="M594.0,261.0 601.0,260.0 605.0,264.0 601.0,268.0 605.0,273.0 611.0,280.0 613.0,287.0 611.0,293.0 605.0,297.0 604.0,293.0 607.0,289.0 608.0,282.0 604.0,272.0 600.0,268.0 599.0,263.0Z"/>
<path fill="#f8972c" class="b" d="M585.0,268.0 591.0,266.0 596.0,273.0 600.0,275.0 602.0,282.0 598.0,284.0 597.0,287.0 594.0,286.0 591.0,287.0 590.0,293.0 591.0,298.0 595.0,302.0 598.0,305.0 596.0,305.0 591.0,300.0 589.0,295.0 589.0,285.0 586.0,278.0Z"/>
<path fill="#fff6c0" class="b" d="M598.0,284.0 602.0,282.0 606.0,284.0 609.0,287.0 606.0,292.0 600.0,291.0 597.5,287.0Z"/>
<path fill="#9abdcd" class="b" d="M594.0,304.0 598.0,305.0 601.0,309.0 602.0,315.0 597.0,315.0Z"/>
<path fill="#9abdcd" class="b" d="M637.0,273.0 641.0,272.0 642.0,277.0 641.0,283.0 645.0,285.0 649.0,288.0 645.0,287.0 640.0,286.0 637.0,280.0Z"/>
<path fill="#9abdcd" class="b" d="M642.0,289.0 649.0,289.0 651.0,291.0 648.0,296.0 645.0,296.0 643.0,292.0Z"/>
<path fill="#9abdcd" class="b" d="M644.0,301.0 650.0,295.0 653.0,298.0 654.0,303.0 651.0,305.0 647.0,301.0Z"/>
<path fill="#9abdcd" class="b" d="M632.0,298.0 637.0,291.0 637.5,292.5 633.0,299.0Z"/>
<path fill="#fcc252" class="b" d="M614.2,409.4 617.8,399.5 617.1,389.6 620.6,377.5 628.4,374.0 638.3,370.5 644.0,363.4 652.5,357.0 659.6,357.7 666.7,349.2 675.9,352.7 672.3,359.1 682.2,366.2 687.2,358.4 690.0,348.5 693.6,358.4 695.0,369.7 700.7,375.4 704.9,383.9 706.3,389.6 702.8,399.5 697.8,406.6 690.7,413.7 682.2,419.3 675.2,422.2 666.7,419.3 663.8,415.1 661.0,409.4 663.8,406.6 656.7,403.7 645.4,403.7 635.5,406.6 624.2,410.1 617.1,411.5Z"/>
<path fill="#f8972c" class="b" d="M631.2,342.8 636.9,341.7 644.0,342.1 649.7,344.2 645.4,345.7 638.3,345.7 632.7,344.2Z"/>
<path fill="#f8972c" class="b" d="M636.9,344.2 640.5,345.0 639.0,346.8 636.2,345.7Z"/>
<path fill="#f8972c" class="b" d="M646.1,345.0 651.1,343.1 649.7,346.4 646.8,347.1Z"/>
<path fill="#fff6c0" class="b" d="M650.4,343.1 655.3,341.7 653.9,343.5 650.4,344.5Z"/>
<path fill="#fff6c0" class="b" d="M510.0,209.5 517.0,207.8 525.0,207.8 531.0,209.0 527.0,213.0 521.0,216.0 516.0,218.0 510.0,217.0 506.0,213.0Z"/>
<path fill="#fcc252" class="b" d="M505.0,211.0 510.0,210.0 512.0,213.0 509.0,215.0 505.0,214.0Z"/>
<path fill="#f8972c" class="b" d="M242.8,195.5 248.0,191.8 251.0,187.3 252.5,186.1 255.5,192.5 254.8,198.5 252.5,197.8 249.5,197.0 246.5,196.3Z"/>
<path fill="#9abdcd" class="b" d="M325.0,287.5 331.0,287.0 330.0,290.0 327.0,291.0Z"/>
<path fill="#fde08e" class="b" d="M171.2,262.8 174.1,260.7 178.2,259.9 182.3,261.1 186.4,263.6 190.5,265.6 194.7,267.3 192.2,268.1 187.2,267.7 183.9,264.8 179.8,263.2 174.9,262.4Z"/>
<path fill="#9abdcd" class="b" d="M184.8,272.2 187.2,271.8 189.7,273.1 187.2,273.9Z"/>
<path fill="#fde08e" class="b" d="M193.4,272.2 197.1,271.4 196.7,268.5 201.2,268.5 205.4,269.8 207.8,271.6 203.7,272.7 200.4,273.9 197.9,272.7Z"/>
<path fill="#fff6c0" class="b" d="M209.5,272.2 214.0,272.1 213.6,273.2 209.9,273.3Z"/>
<path fill="#9abdcd" class="b" d="M186.4,250.0 191.4,250.5 191.0,252.5 187.0,252.0Z"/>
<path fill="#9abdcd" class="b" d="M186.8,254.0 188.9,254.5 188.9,258.2 187.0,257.5Z"/>
<path fill="#9abdcd" class="b" d="M220.0,274.0 221.0,274.5 220.5,275.5Z"/>
<path fill="#9abdcd" class="b" d="M222.0,279.0 223.0,279.5 222.5,280.5Z"/>
<path fill="#9abdcd" class="b" d="M223.0,283.0 224.0,283.5 223.5,284.5Z"/>
<path fill="#ffffff" stroke="#ffffff" stroke-width="0.7" d="M435.0,243.0 440.0,246.0 448.0,258.0 454.0,267.0 460.0,275.0 461.0,283.0 462.0,287.0 459.0,287.0 453.0,277.0 449.0,272.0 445.0,262.0 440.0,250.0Z"/>
<path fill="#ffffff" stroke="#ffffff" stroke-width="0.7" d="M389.5,200.0 392.0,200.5 394.5,202.5 399.0,206.2 403.0,210.2 405.5,213.5 402.0,214.5 398.0,212.5 393.0,209.5 388.5,205.0 390.0,202.2Z"/>
<path fill="#ffffff" stroke="#ffffff" stroke-width="0.7" d="M400.0,215.5 405.5,213.8 406.8,216.2 407.8,220.2 410.5,224.5 400.0,225.0Z"/>
<path fill="#ffffff" stroke="#ffffff" stroke-width="0.7" d="M416.5,214.5 419.5,213.5 420.0,224.0 414.5,224.0 414.5,221.0 412.8,216.2Z"/>
<path fill="#ffffff" stroke="#ffffff" stroke-width="0.7" d="M614.5,218.0 618.0,213.5 620.5,214.5 621.0,218.5 626.0,220.0 623.0,222.5 619.5,223.0 616.5,221.0Z"/>
<path fill="none" stroke="rgba(60,60,60,0.55)" stroke-width="0.55" d="M462.0,199.0 457.0,191.0 463.0,185.0 474.0,187.0 484.0,187.0 481.0,180.0 497.0,176.0 510.0,179.0 522.0,187.0 538.0,191.0 544.0,189.0 558.0,190.0 559.0,185.0 566.0,187.0 574.0,189.0 584.0,191.0 594.0,190.0 599.0,191.0"/>
<path fill="none" stroke="rgba(60,60,60,0.55)" stroke-width="0.55" d="M204.0,367.0 209.0,380.0 210.0,390.0 208.0,395.0 207.0,400.0 211.0,410.0 209.0,420.0 210.6,430.0 214.5,441.0 219.0,452.0 226.7,456.7"/>
<path fill="none" stroke="rgba(60,60,60,0.55)" stroke-width="0.55" d="M511.0,209.0 517.0,207.5 525.0,207.5 531.0,208.5"/>
<path fill="none" stroke="rgba(70,70,70,0.38)" stroke-width="0.5" d="M372.0,270.0 372.0,278.0"/>
<path fill="none" stroke="rgba(70,70,70,0.38)" stroke-width="0.5" d="M398.0,261.0 397.0,270.0 394.0,285.0"/>
</g>
<g id="legend">
<rect x="36.5" y="501.5" width="47" height="11.5" fill="url(#hatch)" stroke="#bbb" stroke-width="1"/>
<line x1="60" y1="498" x2="60" y2="501" stroke="#bbb"/>
<g stroke="#999" stroke-width="0.6">
<rect x="104" y="501.5" width="88.6" height="11.5" fill="#9abdcd"/>
<rect x="192.6" y="501.5" width="88.6" height="11.5" fill="#fff6c0"/>
<rect x="281.2" y="501.5" width="88.6" height="11.5" fill="#fde08e"/>
<rect x="369.8" y="501.5" width="88.6" height="11.5" fill="#fcc252"/>
<rect x="458.4" y="501.5" width="88.6" height="11.5" fill="#f8972c"/>
<rect x="547" y="501.5" width="88.6" height="11.5" fill="#e9701c"/>
<rect x="635.6" y="501.5" width="88.6" height="11.5" fill="#c94b03"/>
<rect x="724.2" y="501.5" width="88.6" height="11.5" fill="#8b2d04"/>
</g>
<g stroke="#999" stroke-width="0.6">
<line x1="148" y1="498" x2="148" y2="501"/>
<line x1="281.2" y1="497" x2="281.2" y2="513"/>
<line x1="369.8" y1="497" x2="369.8" y2="513"/>
<line x1="458.4" y1="497" x2="458.4" y2="513"/>
<line x1="547" y1="497" x2="547" y2="513"/>
<line x1="635.6" y1="497" x2="635.6" y2="513"/>
<line x1="724.2" y1="497" x2="724.2" y2="513"/>
<line x1="812.8" y1="497" x2="812.8" y2="513"/>
</g>
</g>
</svg>
<div class="t leg" style="left:37px;top:482.5px">No data</div>
<div class="t leg" style="left:101px;top:482.5px;letter-spacing:0.28px">Nitrogen mining</div>
<div class="t leg" style="left:266px;top:482.5px">0.1%</div>
<div class="t leg" style="left:354px;top:482.5px">0.5%</div>
<div class="t leg" style="left:448px;top:482.5px">1%</div>
<div class="t leg" style="left:537px;top:482.5px">5%</div>
<div class="t leg" style="left:622px;top:482.5px">10%</div>
<div class="t leg" style="left:711px;top:482.5px">25%</div>
<div class="t leg" style="left:799px;top:482.5px">50%</div>

<div class="t src" style="top:534px"><b>Data source:</b> West, Gerber, Engstrom, Mueller, Brauman, Carlson, Cassidy, Johnston, MacDonald, Ray &amp; Siebert (2014). Leverage points</div>
<div class="t src" style="top:550px;letter-spacing:0.17px">for improving global food security and the environment. Science.</div>
<div class="t src" style="top:570px;letter-spacing:0.24px">OurWorldinData.org/fertilizers | CC BY</div>
</body></html>
